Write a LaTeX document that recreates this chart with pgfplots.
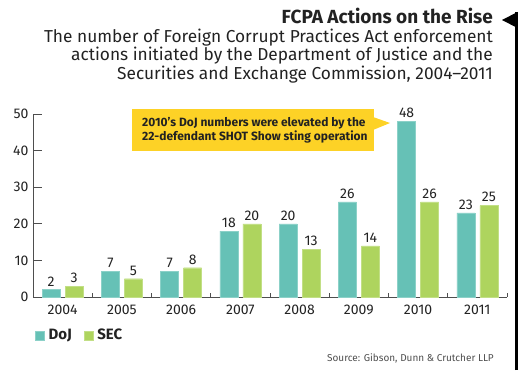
\documentclass[border=0pt]{standalone}
\usepackage{pgfplots}
\pgfplotsset{compat=1.18}
\usepackage{fontspec}
\setmainfont{Fira Sans}
\definecolor{doj}{HTML}{66C1B6}
\definecolor{sec}{HTML}{AED45E}
\definecolor{yel}{HTML}{FDD226}
\definecolor{ink}{HTML}{222222}
\begin{document}
\begin{tikzpicture}
\useasboundingbox (0pt,0pt) rectangle (530pt,370pt);
\node[anchor=base east, inner sep=0, font=\fontsize{19}{22}\selectfont\bfseries, text=ink] at (493pt,346pt) {FCPA Actions on the Rise};
\node[anchor=base east, inner sep=0, font=\fontsize{17.3}{20}\selectfont, text=ink] at (493pt,327.5pt) {The number of Foreign Corrupt Practices Act enforcement};
\node[anchor=base east, inner sep=0, font=\fontsize{17.3}{20}\selectfont, text=ink] at (493pt,309pt) {actions initiated by the Department of Justice and the};
\node[anchor=base east, inner sep=0, font=\fontsize{17.3}{20}\selectfont, text=ink] at (493pt,290.5pt) {Securities and Exchange Commission, 2004--2011};
\draw[line width=3pt, black] (516pt,0pt) -- (516pt,358pt);
\fill[black] (502pt,350pt) -- (517.5pt,358pt) -- (517.5pt,342pt) -- cycle;
\node[anchor=base east, inner sep=0, font=\fontsize{10}{11}\selectfont, text=ink!80] at (494pt,8.5pt) {Source: Gibson, Dunn \& Crutcher LLP};
\fill[yel] (132pt,219pt) rectangle (374pt,261pt);
\fill[yel] (373pt,253pt) -- (390pt,247pt) -- (373pt,240pt) -- cycle;
\node[anchor=base west, inner sep=0, font=\fontsize{12}{14}\selectfont\bfseries, text=ink] at (142pt,243pt) {2010's DoJ numbers were elevated by the};
\node[anchor=base west, inner sep=0, font=\fontsize{12}{14}\selectfont\bfseries, text=ink] at (142pt,229.5pt) {22-defendant SHOT Show sting operation};
\begin{axis}[
  at={(33pt,73pt)}, anchor=south west, scale only axis,
  width=474pt, height=183pt,
  xmin=-0.5, xmax=7.5, ymin=0, ymax=50,
  ybar=5pt, bar width=18pt,
  axis x line=bottom, axis y line=left,
  axis line style={-, draw=ink!80, line width=0.9pt},
  xtick={0,...,7},
  xticklabels={2004,2005,2006,2007,2008,2009,2010,2011},
  minor xtick={0.5,1.5,...,7.5},
  ytick={0,10,...,50},
  tick align=inside,
  major tick length=9pt, minor tick length=4pt,
  xtick style={draw=none},
  minor x tick style={draw=ink!80, line width=0.9pt},
  ytick style={draw=ink!80, line width=0.9pt},
  /pgf/number format/assume math mode=true,
  tick label style={font=\fontsize{14}{15}\selectfont, text=ink},
  xticklabel style={yshift=-4pt},
  yticklabel style={xshift=-1pt},
  nodes near coords,
  every node near coord/.append style={font=\fontsize{14}{15}\selectfont, text=ink},
  legend style={at={(0,0)}, anchor=north west, xshift=-1pt, yshift=-28pt, draw=none, fill=none,
    font=\fontsize{15}{17}\selectfont\bfseries, text=ink, legend columns=2,
    /tikz/every even column/.append style={column sep=10pt}},
  legend image code/.code={\fill[#1] (0pt,-4.5pt) rectangle (9pt,4.5pt); \path (11pt,0pt);},
  clip=false,
]
\addplot[fill=doj, draw=doj!75!white] coordinates {(0,2) (1,7) (2,7) (3,18) (4,20) (5,26) (6,48) (7,23)};
\addlegendentry{DoJ}
\addplot[fill=sec, draw=sec!75!white] coordinates {(0,3) (1,5) (2,8) (3,20) (4,13) (5,14) (6,26) (7,25)};
\addlegendentry{SEC}
\end{axis}
\end{tikzpicture}
\end{document}
